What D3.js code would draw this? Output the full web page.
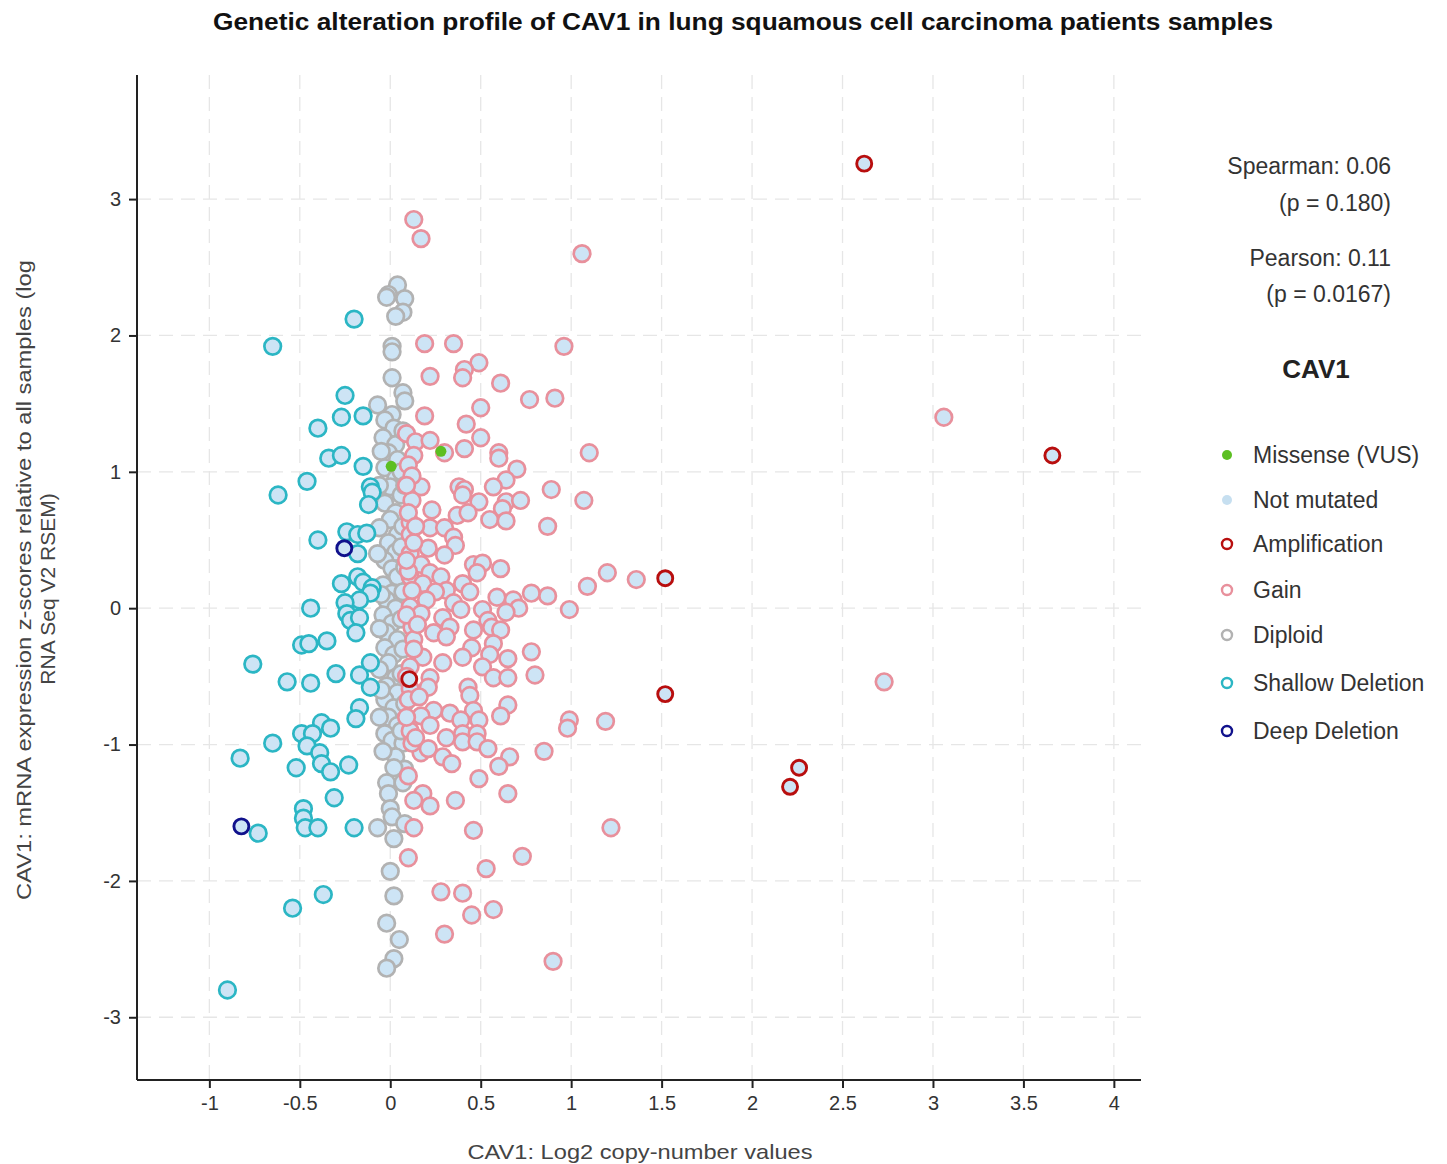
<!DOCTYPE html>
<html><head><meta charset="utf-8">
<script src="https://cdn.jsdelivr.net/npm/d3@7"></script>
<style>
body{margin:0;background:#fff;}
svg{display:block;font-family:"Liberation Sans",Arial,sans-serif;}
</style></head>
<body><svg id="c" width="1447" height="1164"></svg>
<script>
// ---- data: [log2 copy-number, mRNA z-score] ----
const xTicks = [-1,-0.5,0,0.5,1,1.5,2,2.5,3,3.5,4];
const yTicks = [-3,-2,-1,0,1,2,3];
const legendLabels = ["Missense (VUS)","Not mutated","Amplification","Gain","Diploid","Shallow Deletion","Deep Deletion"];
const statLines = ["Spearman: 0.06","(p = 0.180)","Pearson: 0.11","(p = 0.0167)"];

const diploid = [
 [0.04,2.37],[-0.01,2.30],[0.08,2.27],[-0.02,2.28],[0.07,2.17],[0.03,2.14],[0.01,1.92],[0.01,1.88],[0.01,1.69],
 [0.07,1.58],[0.08,1.52],[-0.07,1.49],[0.01,1.42],[-0.03,1.38],[0.02,1.32],[-0.04,1.25],[0.03,1.20],[-0.01,1.14],
 [0.04,1.09],[-0.03,1.03],[0.03,0.95],[0.00,0.89],[0.06,0.83],[-0.03,0.77],[0.03,0.70],[0.00,0.65],[-0.06,0.59],
 [0.04,0.54],[-0.01,0.48],[0.03,0.41],[-0.03,0.35],[0.01,0.29],[0.04,0.23],[-0.04,0.17],[0.01,0.11],[-0.02,0.06],
 [0.03,0.00],[-0.04,-0.05],[0.01,-0.11],[-0.02,-0.18],[0.04,-0.23],[-0.03,-0.29],[0.02,-0.34],[-0.01,-0.40],
 [-0.06,-0.45],[0.03,-0.51],[-0.02,-0.57],[0.04,-0.62],[-0.03,-0.67],[0.02,-0.73],[-0.01,-0.80],[0.04,-0.86],
 [-0.03,-0.92],[0.01,-0.97],[0.07,-0.99],[0.03,-1.09],[0.08,-1.18],[0.02,-1.17],[-0.02,-1.28],[0.07,-1.28],
 [-0.01,-1.36],[0.00,-1.47],[0.01,-1.53],[0.08,-1.58],[-0.07,-1.61],[0.02,-1.69],[0.00,-1.93],[0.02,-2.11],
 [-0.02,-2.31],[0.05,-2.43],[0.02,-2.57],[-0.02,-2.64],
 [0.07,1.30],[0.06,1.00],[0.08,0.90],[0.07,0.60],[0.06,0.45],[0.08,0.30],[0.07,0.12],[0.06,-0.08],[0.07,-0.30],
 [0.06,-0.48],[0.08,-0.70],[0.06,-0.90],[-0.05,1.15],[-0.06,0.90],[-0.07,0.40],[-0.05,0.10],[-0.06,-0.15],
 [-0.05,-0.60],[-0.06,-0.80],[-0.04,-1.05]
];
const shallow = [
 [-0.65,1.92],[-0.20,2.12],[-0.25,1.56],[-0.27,1.40],[-0.15,1.41],[-0.40,1.32],[-0.34,1.10],[-0.27,1.12],
 [-0.15,1.04],[-0.46,0.93],[-0.62,0.83],[-0.11,0.89],[-0.10,0.85],[-0.12,0.76],[-0.24,0.56],[-0.18,0.54],
 [-0.13,0.55],[-0.40,0.50],[-0.18,0.40],[-0.27,0.18],[-0.18,0.23],[-0.15,0.19],[-0.10,0.15],[-0.11,0.11],
 [-0.17,0.06],[-0.25,0.04],[-0.44,0.00],[-0.24,-0.04],[-0.22,-0.09],[-0.17,-0.07],[-0.19,-0.18],[-0.49,-0.27],
 [-0.45,-0.26],[-0.35,-0.24],[-0.76,-0.41],[-0.57,-0.54],[-0.44,-0.55],[-0.30,-0.48],[-0.17,-0.49],[-0.11,-0.40],
 [-0.11,-0.58],[-0.17,-0.73],[-0.19,-0.81],[-0.38,-0.84],[-0.33,-0.88],[-0.49,-0.92],[-0.43,-0.92],[-0.65,-0.99],
 [-0.83,-1.10],[-0.46,-1.01],[-0.52,-1.17],[-0.39,-1.06],[-0.38,-1.14],[-0.33,-1.20],[-0.23,-1.15],[-0.31,-1.39],
 [-0.48,-1.47],[-0.48,-1.54],[-0.47,-1.61],[-0.40,-1.61],[-0.20,-1.61],[-0.73,-1.65],[-0.37,-2.10],[-0.54,-2.20],
 [-0.90,-2.80]
];
const gain = [
 [0.13,2.85],[0.17,2.71],[1.06,2.60],[0.19,1.94],[0.35,1.94],[0.96,1.92],[0.49,1.80],[0.41,1.75],[0.40,1.69],
 [0.22,1.70],[0.61,1.65],[0.77,1.53],[0.91,1.54],[0.50,1.47],[0.19,1.41],[0.42,1.35],[0.50,1.25],[0.09,1.28],
 [0.14,1.22],[0.22,1.23],[0.41,1.17],[0.60,1.14],[0.60,1.10],[1.10,1.14],[0.13,1.12],[0.30,1.14],[0.70,1.02],
 [0.64,0.94],[0.57,0.89],[0.17,0.89],[0.38,0.89],[0.41,0.87],[0.40,0.83],[0.89,0.87],[1.07,0.79],[0.49,0.78],
 [0.64,0.78],[0.72,0.79],[0.62,0.73],[0.55,0.65],[0.64,0.64],[0.87,0.60],[0.12,0.79],[0.23,0.72],[0.37,0.68],
 [0.43,0.70],[0.11,0.63],[0.22,0.59],[0.30,0.59],[0.35,0.52],[0.11,0.54],[0.36,0.46],[0.21,0.44],[0.11,0.40],
 [0.30,0.39],[0.17,0.32],[0.22,0.26],[0.46,0.32],[0.51,0.33],[0.48,0.26],[0.61,0.29],[1.20,0.26],[1.09,0.16],
 [0.78,0.11],[0.87,0.09],[0.28,0.23],[0.11,0.23],[0.18,0.18],[0.40,0.18],[0.44,0.12],[0.31,0.13],[0.12,0.13],
 [0.25,0.12],[0.59,0.08],[0.68,0.06],[0.71,0.00],[0.64,-0.03],[0.99,-0.01],[0.20,0.06],[0.35,0.04],[0.51,-0.01],
 [0.54,-0.09],[0.39,-0.01],[0.11,0.01],[0.17,-0.04],[0.29,-0.07],[0.46,-0.16],[0.56,-0.14],[0.61,-0.16],
 [0.33,-0.14],[0.12,-0.14],[0.24,-0.18],[0.31,-0.21],[0.13,-0.23],[0.57,-0.26],[0.45,-0.29],[0.40,-0.36],
 [0.55,-0.34],[0.65,-0.37],[0.78,-0.32],[0.18,-0.36],[0.29,-0.40],[0.11,-0.43],[0.22,-0.51],[0.51,-0.43],
 [0.57,-0.51],[0.65,-0.51],[0.80,-0.49],[0.43,-0.58],[0.44,-0.64],[0.21,-0.58],[0.11,-0.59],[0.65,-0.71],
 [0.61,-0.79],[0.46,-0.75],[0.24,-0.75],[0.33,-0.77],[0.17,-0.79],[0.39,-0.82],[0.49,-0.82],[0.99,-0.82],
 [0.98,-0.88],[1.19,-0.83],[0.22,-0.86],[0.11,-0.90],[0.40,-0.92],[0.48,-0.92],[0.31,-0.95],[0.17,-1.06],
 [0.21,-1.03],[0.29,-1.09],[0.34,-1.14],[0.40,-0.98],[0.48,-0.98],[0.54,-1.03],[0.66,-1.09],[0.60,-1.16],
 [0.85,-1.05],[0.49,-1.25],[0.65,-1.36],[0.18,-1.36],[0.13,-1.41],[0.22,-1.45],[0.36,-1.41],[0.13,-1.61],
 [0.46,-1.63],[1.22,-1.61],[0.10,-1.83],[0.73,-1.82],[0.53,-1.91],[0.28,-2.08],[0.40,-2.09],[0.45,-2.25],
 [0.57,-2.21],[0.30,-2.39],[0.90,-2.59],[3.06,1.40],[2.73,-0.54],[1.36,0.21],
 [0.10,1.05],[0.12,0.97],[0.10,0.70],[0.13,0.48],[0.10,0.27],[0.13,-0.30],[0.10,-0.67],[0.12,-0.99],
 [0.10,-1.23],[0.14,-0.95],[0.09,0.90],[0.09,0.35],[0.09,-0.05],[0.09,-0.50],[0.09,-0.80],[0.14,0.60],
 [0.15,-0.12],[0.16,-0.65]
];
const amplification = [[2.62,3.26],[3.66,1.12],[1.52,0.22],[1.52,-0.63],[0.105,-0.52],[2.26,-1.17],[2.21,-1.31]];
const deepDeletion = [[-0.254,0.44],[-0.823,-1.60]];
const missense = [[0.005,1.04],[0.28,1.15]];

// ---- chart ----
const svg = d3.select("#c");
const L=137, R=1141, T=75, B=1080;
const x = d3.scaleLinear().domain([-1.4,4.15]).range([L,R]);
const y = d3.scaleLinear().domain([-3.46,3.91]).range([B,T]);

const fillC = "#cde4f5";
const colors = {amp:"#b80e0e", gain:"#e8909c", dip:"#b2b2b2", shallow:"#2bb6c4", deep:"#10118c", miss:"#5cbf22"};

// grid
const g = svg.append("g");
g.selectAll(".vg").data(xTicks).join("line")
 .attr("x1",d=>x(d)).attr("x2",d=>x(d)).attr("y1",T).attr("y2",B)
 .attr("stroke","#e6e6e6").attr("stroke-width",1.3).attr("stroke-dasharray","14,8");
g.selectAll(".hg").data(yTicks).join("line")
 .attr("x1",L).attr("x2",R).attr("y1",d=>y(d)).attr("y2",d=>y(d))
 .attr("stroke","#e6e6e6").attr("stroke-width",1.3).attr("stroke-dasharray","14,8");

// axes
const xAxis = d3.axisBottom(x).tickValues(xTicks).tickSize(8).tickPadding(8).tickFormat(d=>String(d));
const yAxis = d3.axisLeft(y).tickValues(yTicks).tickSize(8).tickPadding(8).tickFormat(d=>String(d));
const xa = svg.append("g").attr("transform",`translate(0,${B})`).call(xAxis);
const ya = svg.append("g").attr("transform",`translate(${L},0)`).call(yAxis);
[xa,ya].forEach(a=>{
 a.select(".domain").attr("stroke","#222").attr("stroke-width",2);
 a.selectAll(".tick line").attr("stroke","#222").attr("stroke-width",2);
 a.selectAll(".tick text").attr("fill","#333").attr("font-size",20).attr("font-family","Liberation Sans, Arial, sans-serif");
});
xa.select(".domain").attr("d",`M${L},0H${R}`);
ya.select(".domain").attr("d",`M0,${T}V${B}`);

// points
function drawSet(data, stroke, r, sw){
 svg.append("g").selectAll("circle").data(data).join("circle")
  .attr("cx",d=>x(d[0])).attr("cy",d=>y(d[1])).attr("r",r)
  .attr("fill",fillC).attr("stroke",stroke).attr("stroke-width",sw);
}
drawSet(diploid, colors.dip, 8.3, 2.7);
drawSet(shallow, colors.shallow, 8.3, 2.7);
drawSet(gain, colors.gain, 8.3, 2.7);
drawSet(amplification, colors.amp, 7.5, 2.9);
drawSet(deepDeletion, colors.deep, 7.5, 2.9);
svg.append("g").selectAll("circle").data(missense).join("circle")
 .attr("cx",d=>x(d[0])).attr("cy",d=>y(d[1])).attr("r",5.5).attr("fill",colors.miss);

// title
svg.append("text").attr("x",743).attr("y",30).attr("text-anchor","middle")
 .attr("font-size",23).attr("font-weight","bold").attr("fill","#111")
 .attr("textLength",1060).attr("lengthAdjust","spacingAndGlyphs")
 .text("Genetic alteration profile of CAV1 in lung squamous cell carcinoma  patients samples");

// axis titles
svg.append("text").attr("x",640).attr("y",1159).attr("text-anchor","middle")
 .attr("font-size",21).attr("fill","#444")
 .attr("textLength",345).attr("lengthAdjust","spacingAndGlyphs")
 .text("CAV1: Log2 copy-number values");
const yl = svg.append("text").attr("transform","translate(0,580) rotate(-90)").attr("text-anchor","middle")
 .attr("font-size",21).attr("fill","#444");
yl.append("tspan").attr("x",0).attr("y",31)
 .attr("textLength",640).attr("lengthAdjust","spacingAndGlyphs")
 .text("CAV1: mRNA expression z-scores relative to all samples (log");
yl.append("tspan").attr("x",-9).attr("y",55).text("RNA Seq V2 RSEM)");

// stats
const statY = [166,203,258,294];
svg.selectAll(".stat").data(statLines).join("text")
 .attr("x",1391).attr("y",(d,i)=>statY[i]+8).attr("text-anchor","end")
 .attr("font-size",23).attr("fill","#333").text(d=>d);

// legend
svg.append("text").attr("x",1316).attr("y",378).attr("text-anchor","middle")
 .attr("font-size",26).attr("font-weight","bold").attr("fill","#222").text("CAV1");
const legY = [455,500,544,590,635,683,731];
const legStroke = [null,null,colors.amp,colors.gain,colors.dip,colors.shallow,colors.deep];
const legFill = [colors.miss,"#c6dff0",null,null,null,null,null];
const lg = svg.append("g");
legendLabels.forEach((lab,i)=>{
 if(legFill[i]){
  lg.append("circle").attr("cx",1227).attr("cy",legY[i]).attr("r",5).attr("fill",legFill[i]);
 } else {
  lg.append("circle").attr("cx",1227).attr("cy",legY[i]).attr("r",5).attr("fill","none")
   .attr("stroke",legStroke[i]).attr("stroke-width",2.4);
 }
 lg.append("text").attr("x",1253).attr("y",legY[i]+8).attr("font-size",23).attr("fill","#333").text(lab);
});
</script></body></html>
